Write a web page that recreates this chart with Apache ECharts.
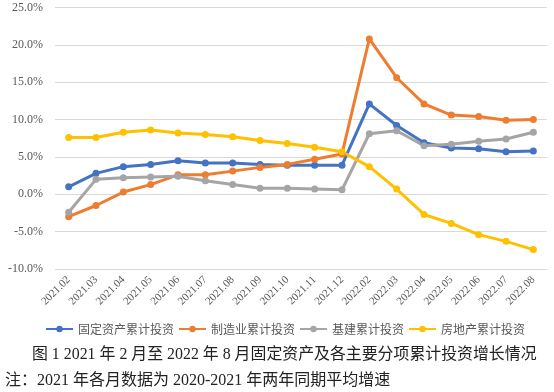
<!DOCTYPE html>
<html>
<head>
<meta charset="utf-8">
<script src="https://cdn.jsdelivr.net/npm/echarts@6/dist/echarts.min.js"></script>
<style>
html,body{margin:0;padding:0;background:#fff;}
#c{width:554px;height:392px;}
</style>
</head>
<body>
<div id="c"></div>
<script>
const categories = ['2021.02','2021.03','2021.04','2021.05','2021.06','2021.07','2021.08','2021.09','2021.10','2021.11','2021.12','2022.02','2022.03','2022.04','2022.05','2022.06','2022.07','2022.08'];
const fixedAsset = [1.0, 2.8, 3.7, 4.0, 4.5, 4.2, 4.2, 4.0, 3.9, 3.9, 3.9, 12.1, 9.2, 6.9, 6.2, 6.1, 5.7, 5.8];
const manufacturing = [-3.0, -1.5, 0.3, 1.3, 2.6, 2.6, 3.1, 3.6, 4.0, 4.7, 5.4, 20.8, 15.6, 12.1, 10.6, 10.4, 9.9, 10.0];
const infrastructure = [-2.4, 2.0, 2.2, 2.3, 2.4, 1.8, 1.3, 0.8, 0.8, 0.7, 0.6, 8.1, 8.5, 6.5, 6.7, 7.1, 7.4, 8.3];
const realEstate = [7.6, 7.6, 8.3, 8.6, 8.2, 8.0, 7.7, 7.2, 6.8, 6.3, 5.7, 3.7, 0.7, -2.7, -3.9, -5.4, -6.3, -7.4];
const seriesNames = ['固定资产累计投资','制造业累计投资','基建累计投资','房地产累计投资'];
const seriesColors = ['#4472C4','#ED7D31','#A5A5A5','#FFC000'];
const captionText = '图 1 2021 年 2 月至 2022 年 8 月固定资产及各主要分项累计投资增长情况';
const noteText = '注：2021 年各月数据为 2020-2021 年两年同期平均增速';

const serifFont = "'Liberation Serif','Noto Sans CJK SC',serif";
const dataSets = [fixedAsset, manufacturing, infrastructure, realEstate];

const chart = echarts.init(document.getElementById('c'), null, {renderer:'canvas'});
chart.setOption({
  animation: false,
  backgroundColor: '#fff',
  color: seriesColors,
  grid: {left: 55, right: 7, top: 7.5, bottom: 123},
  legend: {
    data: seriesNames,
    top: 318,
    left: 40,
    itemWidth: 27,
    itemHeight: 8,
    itemGap: 4,
    textStyle: {fontFamily: "'Noto Sans CJK SC',sans-serif", fontSize: 12, color: '#595959'}
  },
  xAxis: {
    type: 'category',
    data: categories,
    boundaryGap: true,
    axisLine: {show: false},
    axisTick: {show: false},
    axisLabel: {rotate: 45, margin: 9, fontFamily: serifFont, fontSize: 11, color: '#595959', interval: 0}
  },
  yAxis: {
    type: 'value',
    min: -10, max: 25, interval: 5,
    axisLine: {show: false},
    axisTick: {show: false},
    splitLine: {lineStyle: {color: '#d9d9d9', width: 1}},
    axisLabel: {margin: 12, fontFamily: serifFont, fontSize: 12, color: '#595959',
      formatter: v => v.toFixed(1) + '%'}
  },
  series: seriesNames.map((n, i) => ({
    name: n,
    type: 'line',
    data: dataSets[i],
    symbol: 'circle',
    symbolSize: 7,
    lineStyle: {width: 3, color: seriesColors[i]},
    itemStyle: {color: seriesColors[i]}
  })),
  graphic: [
    {type: 'text', left: 32, top: 347,
     style: {text: captionText, font: "15.9px 'Liberation Serif','Noto Sans CJK SC',serif", fill: '#222'}},
    {type: 'text', left: 5, top: 373,
     style: {text: noteText, font: "16px 'Liberation Serif','Noto Sans CJK SC',serif", fill: '#222'}}
  ]
});
</script>
</body>
</html>
